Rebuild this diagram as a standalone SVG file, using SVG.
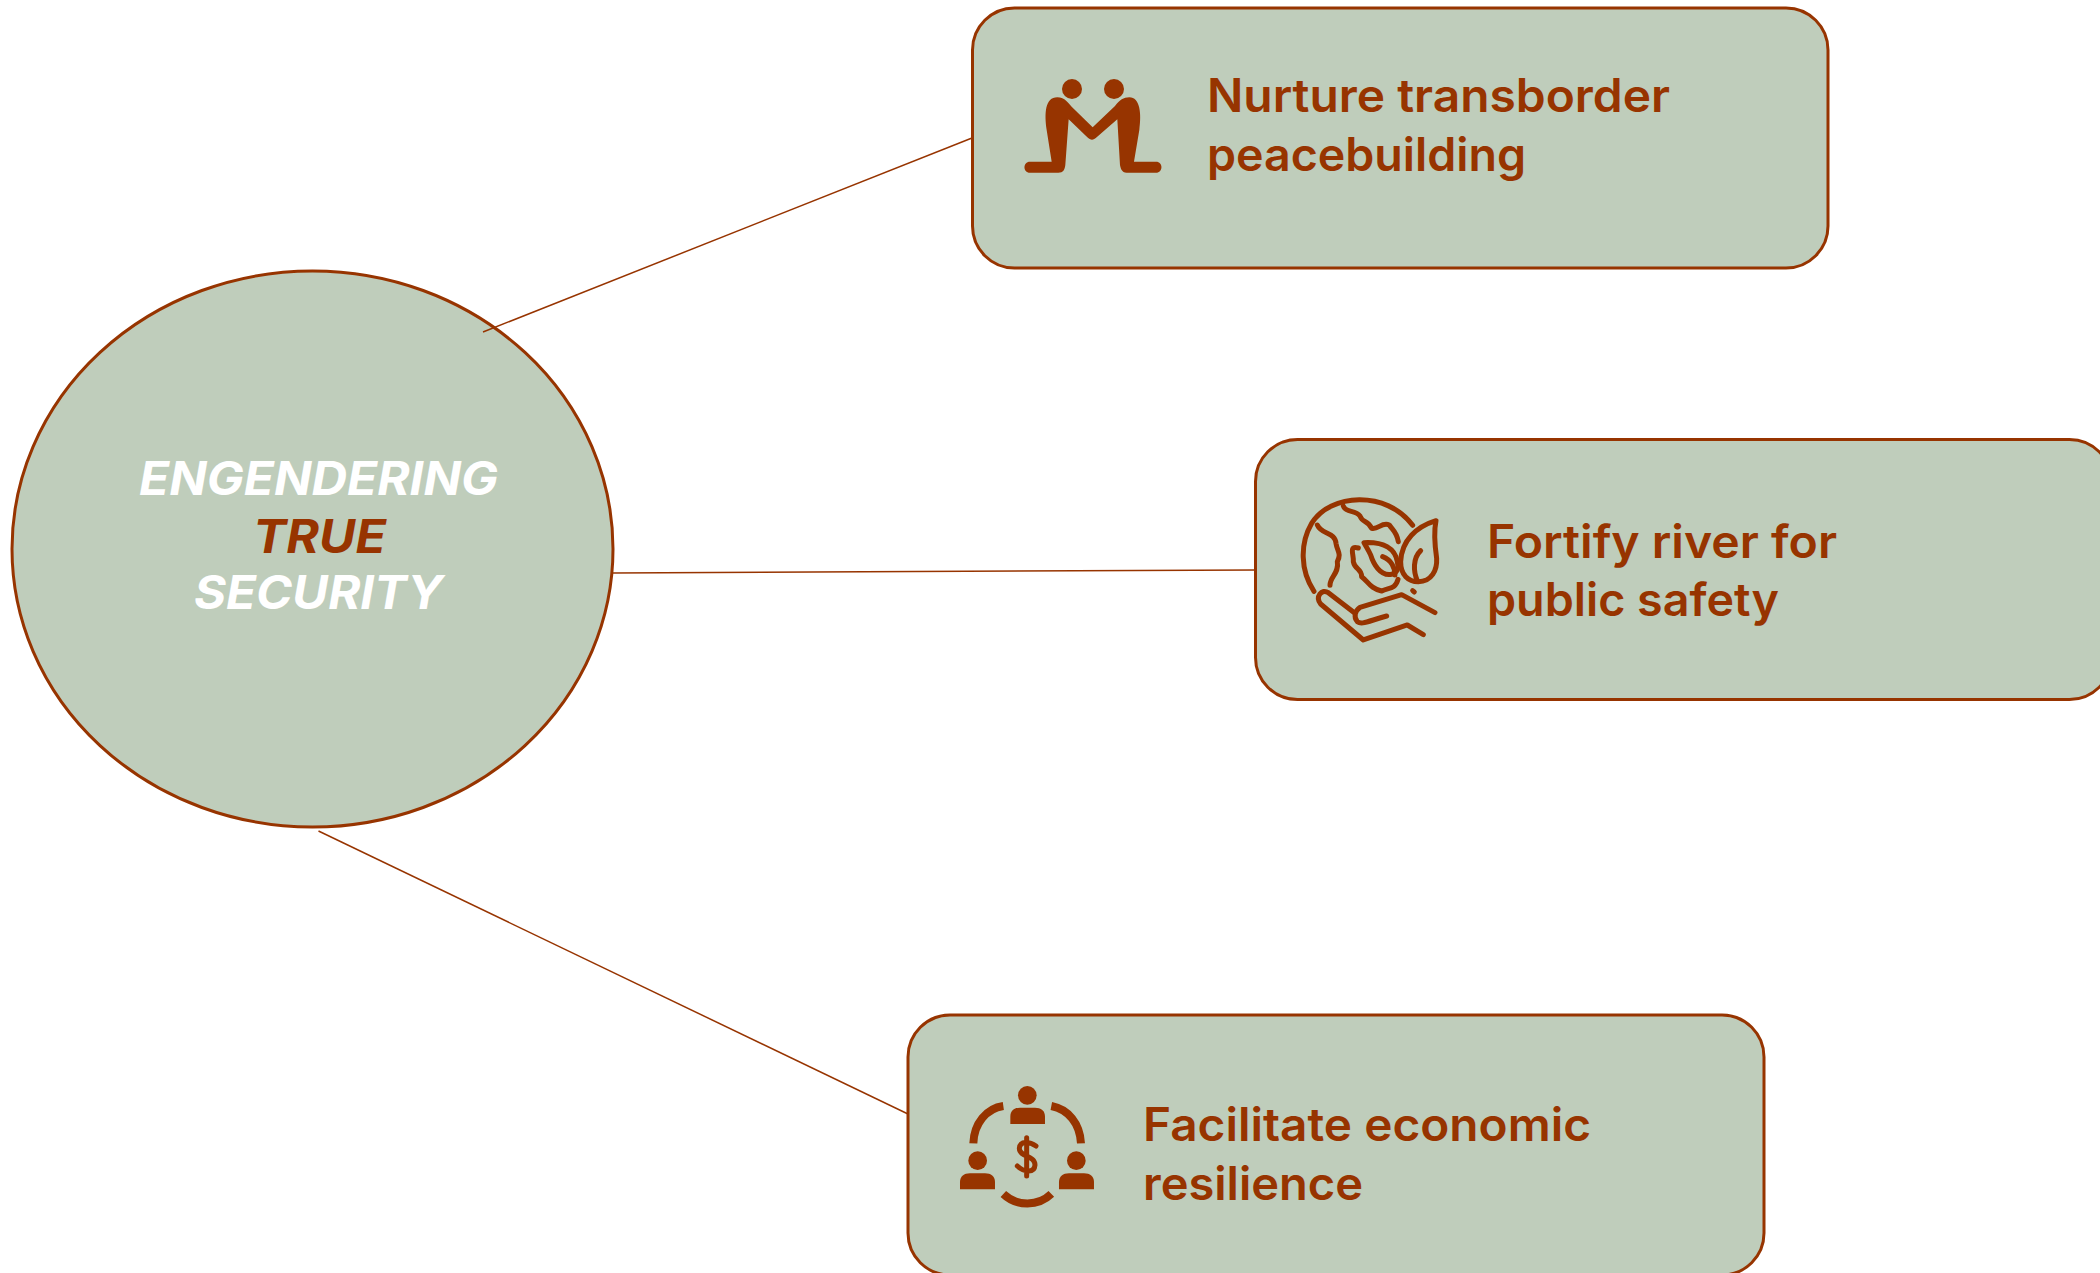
<svg xmlns="http://www.w3.org/2000/svg" width="2100" height="1273" viewBox="0 0 2100 1273">
<style>
.shape{fill:#bfcdbb;stroke:#973400;stroke-width:3}
.conn{stroke:#973400;stroke-width:1.5;fill:none}
.lbl{font-family:"Inter","Liberation Sans",sans-serif;font-size:46px;font-weight:600;fill:#973400}
.hub{font-family:"Inter","Liberation Sans",Arial,sans-serif;font-size:46px;font-weight:700;font-style:italic;fill:#fff}
.ic{fill:#973400}
.ol{fill:none;stroke:#973400;stroke-width:15;stroke-linecap:round;stroke-linejoin:round}
</style>
<g id="hub">
<ellipse class="shape" cx="312.5" cy="549" rx="300.5" ry="278"/>
<text class="hub" x="139" y="494.5" textLength="359" lengthAdjust="spacingAndGlyphs">ENGENDERING</text>
<text class="hub" x="253" y="552.5" textLength="133" lengthAdjust="spacingAndGlyphs" style="fill:#973400">TRUE</text>
<text class="hub" x="194" y="608.5" textLength="249" lengthAdjust="spacingAndGlyphs">SECURITY</text>
</g>
<g id="node-peacebuilding">
<rect class="shape" x="972.5" y="8" width="855.5" height="260" rx="42"/>
<g transform="translate(1000,50) scale(.3333)">
<circle class="ic" cx="216" cy="117" r="30"/><circle class="ic" cx="342" cy="117" r="30"/>
<path class="ic" d="M90 335H155L140 240C133 190 135 142 172 142C195 142 205 160 215 170L278 232L345 168C360 150 370 142 388 142C420 142 425 190 418 240L402 335H468C490 335 490 368 468 368H380C365 368 362 355 360 345L352 208L290 262C280 272 272 272 262 262L206 208L196 345C194 360 190 368 175 368H90C68 368 68 335 90 335Z"/>
</g>
<text class="lbl" x="1207" y="112" textLength="463" lengthAdjust="spacingAndGlyphs">Nurture transborder</text>
<text class="lbl" x="1207" y="171" textLength="319" lengthAdjust="spacingAndGlyphs">peacebuilding</text>
</g>
<g id="node-river">
<rect class="shape" x="1255.5" y="439.5" width="856" height="260" rx="42"/>
<g transform="translate(1280,480) scale(.3333)">
<path class="ol" d="M102 334C60 270 60 190 95 130C150 40 320 30 398 136"/>
<path class="ol" d="M190 78C198 100 225 88 240 108C248 130 262 118 275 145C295 150 305 125 328 135C338 150 350 155 355 185"/>
<path class="ol" d="M112 135C125 165 165 155 168 190C172 215 185 220 172 245C178 280 150 290 150 316"/>
<path class="ol" d="M235 204C205 195 222 225 220 245C225 270 245 265 245 290C265 305 270 325 305 333C325 322 345 330 354 298"/>
<path class="ol" d="M252 188C310 185 345 205 352 245C358 265 350 280 335 283C300 290 280 250 272 225C265 210 258 200 252 188Z"/>
<path class="ol" d="M308 230C335 240 345 265 345 285"/>
<path class="ol" d="M468 122C410 140 365 180 362 245C362 285 385 305 415 305C455 305 472 270 470 235C465 200 460 160 468 122Z"/>
<path class="ol" d="M422 212C398 235 400 275 412 302"/>
<path class="ol" d="M398 332L403 336"/>
<path class="ol" d="M465 398L365 344L240 382C225 392 220 412 232 425C245 435 260 425 320 408"/>
<path class="ol" d="M225 400L145 338C125 325 105 350 122 372L250 480L382 435L430 464"/>
</g>
<text class="lbl" x="1487" y="558" textLength="350" lengthAdjust="spacingAndGlyphs">Fortify river for</text>
<text class="lbl" x="1487" y="616" textLength="292" lengthAdjust="spacingAndGlyphs">public safety</text>
</g>
<g id="node-economic">
<rect class="shape" x="908" y="1015" width="856" height="260" rx="42"/>
<g transform="translate(940,1070) scale(.3333)">
<circle class="ic" cx="262" cy="76" r="28"/>
<path class="ic" d="M211 162V140C211 122 222 113 240 113H285C303 113 315 122 315 140V162Z"/>
<circle class="ic" cx="113" cy="272" r="28"/>
<path class="ic" d="M60 358V336C60 319 72 310 90 310H135C153 310 165 319 165 336V358Z"/>
<circle class="ic" cx="409" cy="272" r="28"/>
<path class="ic" d="M357 358V336C357 319 369 310 387 310H432C450 310 462 319 462 336V358Z"/>
<path fill="none" stroke="#973400" stroke-width="24" d="M100 220C102 160 140 115 190 108"/>
<path fill="none" stroke="#973400" stroke-width="24" d="M334 108C385 118 420 160 423 220"/>
<path fill="none" stroke="#973400" stroke-width="24" d="M190 372C230 410 295 410 334 372"/>
<path fill="none" stroke="#973400" stroke-width="15" stroke-linecap="round" stroke-linejoin="round" d="M288 228C270 215 240 210 238 235C238 262 285 255 285 285C283 312 250 305 232 288M260 203V318"/>
</g>
<text class="lbl" x="1143" y="1141" textLength="448" lengthAdjust="spacingAndGlyphs">Facilitate economic</text>
<text class="lbl" x="1143" y="1200" textLength="220" lengthAdjust="spacingAndGlyphs">resilience</text>
</g>
<g id="connectors">
<line class="conn" x1="483" y1="332" x2="972" y2="138"/>
<line class="conn" x1="613" y1="573" x2="1255" y2="570"/>
<line class="conn" x1="318.5" y1="831" x2="908" y2="1114"/>
</g>
</svg>
